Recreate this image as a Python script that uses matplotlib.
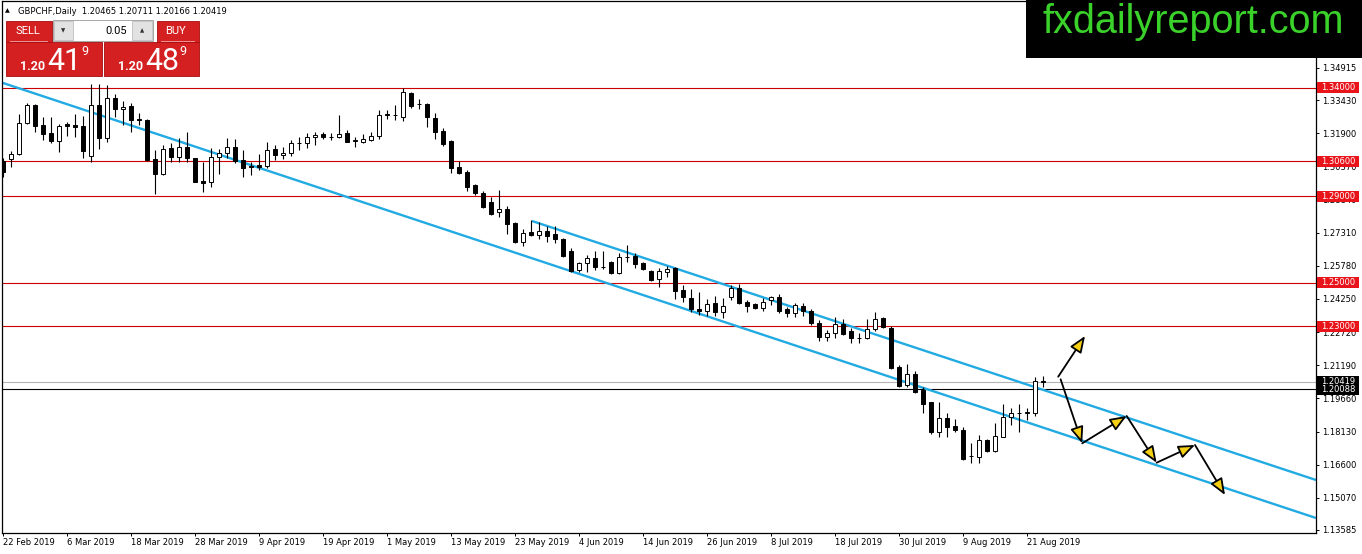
import numpy as np
import pandas as pd
import matplotlib
matplotlib.use('Agg')
import matplotlib.pyplot as plt
from matplotlib.patches import Rectangle, FancyArrowPatch

W, H = 1362, 554

title = 'GBPCHF,Daily  1.20465 1.20711 1.20166 1.20419'
start_date = '2019-02-22'

opens = [1.3062, 1.3070, 1.3096, 1.3236, 1.3321, 1.3228, 1.3190, 1.3156, 1.3231, 1.3228,
         1.3224, 1.3084, 1.3321, 1.3167, 1.3352, 1.3301, 1.3316, 1.3256, 1.3252, 1.3071,
         1.3001, 1.3121, 1.3082, 1.3128, 1.3075, 1.2970, 1.2967, 1.3079, 1.3098, 1.3125,
         1.3065, 1.3040, 1.3044, 1.3039, 1.3117, 1.3089, 1.3098, 1.3145, 1.3144, 1.3172,
         1.3187, 1.3173, 1.3172, 1.3193, 1.3156, 1.3151, 1.3159, 1.3179, 1.3279, 1.3274,
         1.3267, 1.3378, 1.3327, 1.3325, 1.3261, 1.3201, 1.3155, 1.3033, 1.3013, 1.2951,
         1.2913, 1.2872, 1.2825, 1.2839, 1.2777, 1.2689, 1.2733, 1.2719, 1.2740, 1.2724,
         1.2702, 1.2648, 1.2559, 1.2590, 1.2613, 1.2575, 1.2596, 1.2546, 1.2619, 1.2624,
         1.2593, 1.2554, 1.2516, 1.2551, 1.2567, 1.2466, 1.2428, 1.2379, 1.2370, 1.2405,
         1.2366, 1.2433, 1.2477, 1.2413, 1.2401, 1.2382, 1.2420, 1.2433, 1.2379, 1.2362,
         1.2393, 1.2370, 1.2316, 1.2248, 1.2267, 1.2308, 1.2277, 1.2246, 1.2246, 1.2285,
         1.2336, 1.2290, 1.2110, 1.2028, 1.2077, 1.2004, 1.1948, 1.1812, 1.1877, 1.1839,
         1.1820, 1.1701, 1.1697, 1.1774, 1.1725, 1.1789, 1.1882, 1.1897, 1.1900, 1.1900,
         1.20465]
highs = [1.3076, 1.3108, 1.3278, 1.3329, 1.3324, 1.3264, 1.3264, 1.3233, 1.3244, 1.3278,
         1.3270, 1.3416, 1.3416, 1.3413, 1.3370, 1.3339, 1.3329, 1.3282, 1.3255, 1.3113,
         1.3136, 1.3144, 1.3170, 1.3197, 1.3077, 1.3056, 1.3124, 1.3117, 1.3167, 1.3164,
         1.3113, 1.3059, 1.3094, 1.3151, 1.3136, 1.3128, 1.3159, 1.3172, 1.3190, 1.3197,
         1.3197, 1.3190, 1.3275, 1.3205, 1.3174, 1.3187, 1.3197, 1.3298, 1.3298, 1.3321,
         1.3398, 1.3382, 1.3347, 1.3329, 1.3285, 1.3216, 1.3159, 1.3064, 1.3021, 1.2956,
         1.2924, 1.2895, 1.2928, 1.2854, 1.2782, 1.2747, 1.2790, 1.2782, 1.2762, 1.2762,
         1.2705, 1.2659, 1.2597, 1.2628, 1.2648, 1.2648, 1.2602, 1.2636, 1.2674, 1.2636,
         1.2597, 1.2559, 1.2567, 1.2577, 1.2571, 1.2490, 1.2470, 1.2459, 1.2424, 1.2439,
         1.2428, 1.2490, 1.2494, 1.2420, 1.2408, 1.2428, 1.2439, 1.2448, 1.2387, 1.2405,
         1.2408, 1.2378, 1.2328, 1.2282, 1.2341, 1.2331, 1.2293, 1.2267, 1.2331, 1.2364,
         1.2341, 1.2300, 1.2120, 1.2125, 1.2094, 1.2017, 1.1951, 1.1951, 1.1897, 1.1870,
         1.1836, 1.1762, 1.1797, 1.1777, 1.1851, 1.1939, 1.1923, 1.1940, 1.1920, 1.2064,
         1.20711]
lows = [1.2988, 1.3036, 1.3090, 1.3232, 1.3195, 1.3159, 1.3147, 1.3105, 1.3178, 1.3172,
        1.3077, 1.3056, 1.3118, 1.3151, 1.3267, 1.3228, 1.3197, 1.3228, 1.3062, 1.2908,
        1.2998, 1.3056, 1.3056, 1.3059, 1.2964, 1.2918, 1.2944, 1.3001, 1.3075, 1.3052,
        1.2990, 1.2999, 1.3021, 1.3028, 1.3067, 1.3071, 1.3087, 1.3113, 1.3121, 1.3136,
        1.3162, 1.3159, 1.3167, 1.3148, 1.3128, 1.3144, 1.3155, 1.3162, 1.3255, 1.3252,
        1.3248, 1.3308, 1.3301, 1.3221, 1.3162, 1.3131, 1.3008, 1.3002, 1.2924, 1.2905,
        1.2844, 1.2813, 1.2805, 1.2725, 1.2682, 1.2671, 1.2716, 1.2701, 1.2687, 1.2682,
        1.2620, 1.2548, 1.2551, 1.2551, 1.2559, 1.2562, 1.2540, 1.2540, 1.2597, 1.2567,
        1.2559, 1.2508, 1.2479, 1.2528, 1.2424, 1.2413, 1.2366, 1.2351, 1.2346, 1.2346,
        1.2336, 1.2420, 1.2402, 1.2366, 1.2377, 1.2370, 1.2397, 1.2359, 1.2343, 1.2341,
        1.2346, 1.2305, 1.2233, 1.2233, 1.2244, 1.2259, 1.2223, 1.2221, 1.2239, 1.2279,
        1.2290, 1.2100, 1.2017, 1.2020, 1.1992, 1.1900, 1.1802, 1.1789, 1.1787, 1.1812,
        1.1682, 1.1669, 1.1669, 1.1720, 1.1720, 1.1786, 1.1843, 1.1812, 1.1866, 1.1885,
        1.20166]
closes = [1.3011, 1.3093, 1.3236, 1.3321, 1.3225, 1.3185, 1.3156, 1.3224, 1.3222, 1.3221,
          1.3110, 1.3321, 1.3167, 1.3352, 1.3301, 1.3310, 1.3252, 1.3250, 1.3067, 1.3001,
          1.3117, 1.3082, 1.3128, 1.3075, 1.2967, 1.2962, 1.3079, 1.3098, 1.3125, 1.3062,
          1.3031, 1.3034, 1.3033, 1.3113, 1.3090, 1.3100, 1.3144, 1.3147, 1.3174, 1.3182,
          1.3174, 1.3174, 1.3187, 1.3151, 1.3157, 1.3165, 1.3178, 1.3275, 1.3273, 1.3275,
          1.3382, 1.3316, 1.3325, 1.3264, 1.3197, 1.3141, 1.3031, 1.3008, 1.2944, 1.2913,
          1.2848, 1.2818, 1.2839, 1.2771, 1.2687, 1.2731, 1.2719, 1.2740, 1.2717, 1.2702,
          1.2625, 1.2556, 1.2590, 1.2613, 1.2574, 1.2574, 1.2546, 1.2620, 1.2620, 1.2587,
          1.2563, 1.2513, 1.2554, 1.2564, 1.2463, 1.2433, 1.2378, 1.2370, 1.2401, 1.2366,
          1.2393, 1.2477, 1.2408, 1.2394, 1.2382, 1.2413, 1.2433, 1.2371, 1.2362, 1.2396,
          1.2371, 1.2313, 1.2248, 1.2269, 1.2308, 1.2263, 1.2244, 1.2247, 1.2285, 1.2331,
          1.2294, 1.2105, 1.2023, 1.2077, 1.1997, 1.1939, 1.1812, 1.1874, 1.1835, 1.1820,
          1.1686, 1.1702, 1.1774, 1.1725, 1.1793, 1.1879, 1.1897, 1.1898, 1.1901, 1.2046,
          1.20419]

red_levels = [1.34000, 1.30600, 1.29000, 1.25000, 1.23000]
gray_level = 1.20419
black_level = 1.20088
ytick_values = [1.34915, 1.33430, 1.31900, 1.30370, 1.28840, 1.27310, 1.25780, 1.24250,
                1.22720, 1.21190, 1.19660, 1.18130, 1.16600, 1.15070, 1.13585]

# channel lines: (bar index, price)
channel_lower = [(-0.375, 1.34269), (164.125, 1.14138)]
channel_upper = [(66.125, 1.27851), (164.125, 1.15893)]

# projection arrows
arrow_up = [(131.9, 1.20662), (135.25, 1.22541)]
arrow_zigzag = [(132.2, 1.20542), (134.9, 1.17587), (140.46, 1.18848),
                (144.2, 1.16692), (149.0, 1.17509), (152.75, 1.15200)]

sell_price = ('1.20', '41', '9')
buy_price = ('1.20', '48', '9')
lot = '0.05'

plt.rcParams['font.family'] = 'DejaVu Sans'

dates = pd.bdate_range(start_date, periods=len(opens))
x = np.arange(len(opens))
o = np.array(opens)
c = np.array(closes)

fig = plt.figure(figsize=(W / 100, H / 100), dpi=100)
ax = fig.add_axes([2 / W, 21 / H, 1314 / W, 532 / H])
ax.set_xlim(-0.125, 164.125)
ax.set_ylim(1.13446, 1.38008)

for lv in red_levels:
    ax.axhline(lv, color='#cc0000', lw=0.8, zorder=1)
ax.axhline(gray_level, color='#b4b4b4', lw=0.8, zorder=1)
ax.axhline(black_level, color='black', lw=0.8, zorder=1)

for line in (channel_lower, channel_upper):
    xs, ys = zip(*line)
    ax.plot(xs, ys, color='#22aae2', lw=1.7, zorder=2, solid_capstyle='butt')

ax.vlines(x, lows, highs, color='black', lw=0.8, zorder=3)
up = c >= o
body_h = np.maximum(np.abs(c - o), 0.00005)
ax.bar(x, body_h, bottom=np.minimum(o, c), width=0.62,
       color=np.where(up, 'white', 'black'), edgecolor='black', linewidth=0.7, zorder=4)


def add_arrow(p0, p1):
    ax.add_patch(FancyArrowPatch(p0, p1, arrowstyle='-|>,head_length=0.5,head_width=0.2',
                                 mutation_scale=20, shrinkA=0, shrinkB=0,
                                 facecolor='#f5cf14', edgecolor='black', lw=1.3, zorder=6))


add_arrow(*arrow_up)
for p0, p1 in zip(arrow_zigzag[:-1], arrow_zigzag[1:]):
    add_arrow(p0, p1)

ax.yaxis.tick_right()
ax.set_yticks(ytick_values)
ax.set_yticklabels([f'{v:.5f}' for v in ytick_values])
xt = x[::8]
ax.set_xticks(xt)
ax.set_xticklabels([f'{d.day} {d:%b %Y}' for d in dates[xt]], ha='left')
ax.tick_params(axis='y', direction='out', length=2.2, width=0.7, pad=2, labelsize=6)
ax.tick_params(axis='x', direction='out', length=2.2, width=0.7, pad=1.5, labelsize=6)
for sp in ax.spines.values():
    sp.set_linewidth(0.9)


def fx(px):
    return px / W


def fy(py):
    return 1 - py / H


def box(x0, y0, x1, y1, **kw):
    fig.patches.append(Rectangle((fx(x0), fy(y1)), (x1 - x0) / W, (y1 - y0) / H,
                                 transform=fig.transFigure, **kw))


def price_fig_y(p):
    return fig.transFigure.inverted().transform(ax.transData.transform((0, p)))[1]


# right-hand price labels (they cover the axis labels beneath, as in MT4)
for lv, fc in [(lv, '#e8141a') for lv in red_levels] + [(gray_level, 'black'), (black_level, 'black')]:
    yf = price_fig_y(lv)
    fig.patches.append(Rectangle((fx(1317), yf - 5.5 / H), 42 / W, 11 / H,
                                 transform=fig.transFigure, facecolor=fc, edgecolor='none'))
    fig.text(fx(1321), yf, f'{lv:.5f}', color='white', fontsize=6, va='center', ha='left')

# header
fig.text(fx(5), fy(11), '\u25b2', fontsize=4.5, va='center', ha='left')
fig.text(fx(18), fy(11), title, fontsize=6, va='center', ha='left')

# one click trading panel
red = '#d42020'
box(6, 21, 52, 42, facecolor=red, edgecolor='#a80c0c', lw=0.6)
box(6, 42, 102, 76, facecolor=red, edgecolor='#a80c0c', lw=0.6)
box(157, 21, 199, 42, facecolor=red, edgecolor='#a80c0c', lw=0.6)
box(104, 42, 199, 76, facecolor=red, edgecolor='#a80c0c', lw=0.6)
box(10, 40.8, 48, 41.6, facecolor='#f09090', edgecolor='none')
box(161, 40.8, 195, 41.6, facecolor='#f09090', edgecolor='none')
box(53, 20, 153, 41, facecolor='white', edgecolor='#9a9a9a', lw=0.6)
box(54, 21, 73, 40, facecolor='#e2e2e2', edgecolor='#b5b5b5', lw=0.5)
box(132, 21, 152, 40, facecolor='#e2e2e2', edgecolor='#b5b5b5', lw=0.5)
fig.text(fx(63.5), fy(31), '\u25bc', fontsize=4, ha='center', va='center', color='#333333')
fig.text(fx(142), fy(31), '\u25b2', fontsize=4, ha='center', va='center', color='#333333')
fig.text(fx(127), fy(31), lot, fontsize=8, ha='right', va='center', family='Roboto')
fig.text(fx(28), fy(31), 'SELL', fontsize=8, ha='center', va='center', color='white', family='Roboto')
fig.text(fx(176), fy(31), 'BUY', fontsize=8, ha='center', va='center', color='white', family='Roboto')
for (small, big, sup), x0 in [(sell_price, 20), (buy_price, 118)]:
    fig.text(fx(x0), fy(70), small, fontsize=9, ha='left', va='baseline', color='white',
             family='Roboto', weight='bold')
    fig.text(fx(x0 + 27), fy(70), big, fontsize=22, ha='left', va='baseline', color='white',
             family='Roboto')
    fig.text(fx(x0 + 61), fy(55), sup, fontsize=9, ha='left', va='baseline', color='white',
             family='Roboto')

# logo
box(1026, 0, 1362, 58, facecolor='black', edgecolor='none')
fig.text(fx(1193), fy(33.3), 'fxdailyreport.com', fontsize=28.5, ha='center', va='baseline',
         color='#3ad22a', family='Liberation Sans')

fig.savefig('out.png', dpi=100)
